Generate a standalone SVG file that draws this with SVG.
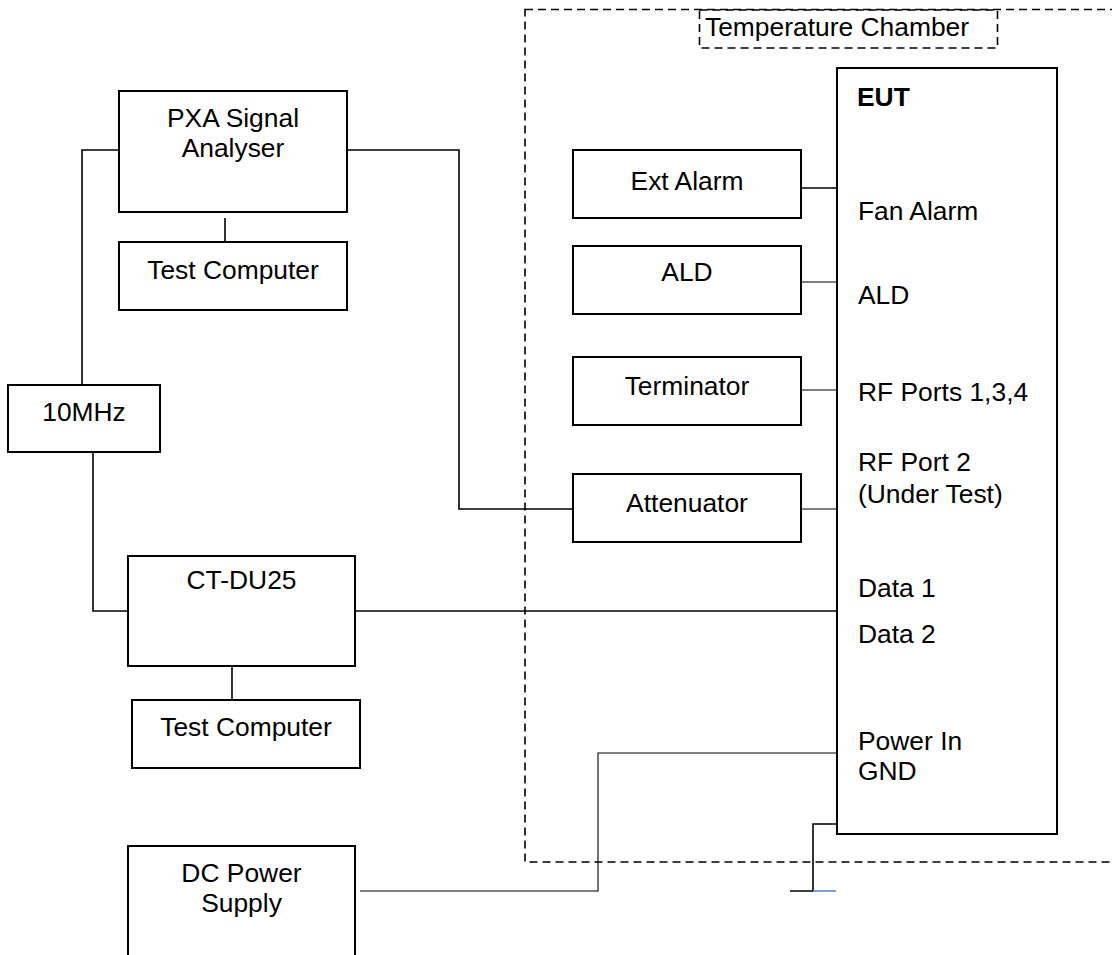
<svg xmlns="http://www.w3.org/2000/svg" width="1112" height="955" viewBox="0 0 1112 955">
<style>
.box{fill:#fff;stroke:#000;stroke-width:2}
.t{font-family:"Liberation Sans",Arial,sans-serif;font-size:26.4px;fill:#000}
.c{text-anchor:middle}
.w{fill:none;stroke:#000;stroke-width:1.6}
.thin{fill:none;stroke:#000;stroke-width:1.1}
.dash{fill:none;stroke:#000;stroke-width:1.6;stroke-dasharray:8 5}
</style>
<rect width="1112" height="955" fill="#fff"/>
<g id="chamber">
<rect class="dash" x="525" y="9.5" width="620" height="852.5"/>
<rect class="dash" x="699.5" y="10" width="298" height="38"/>
<text class="t" x="705" y="36">Temperature Chamber</text>
</g>
<g id="connectors">
<path class="w" d="M119,150 H82 V385"/>
<path class="w" d="M93,452 V611 H128"/>
<path class="w" d="M347,150 H459 V509 H573"/>
<path class="w" d="M225,218 V242"/>
<path class="w" d="M232,666 V700"/>
<path class="w" d="M355,611 H837"/>
<path class="w" d="M801,188 H837"/>
<path class="thin" d="M801,282 H837"/>
<path class="thin" d="M801,390 H837"/>
<path class="thin" d="M801,509 H837"/>
<path class="thin" d="M360,891 H598 V753 H837"/>
<path class="w" d="M837,824 H813 V891 H790"/>
<path d="M813,891 H836" stroke="#5b8bd0" stroke-width="1.6" fill="none"/>
</g>
<g id="pxa">
<rect class="box" x="119" y="91" width="228" height="121"/>
<text class="t c" x="233" y="127">PXA Signal</text>
<text class="t c" x="233" y="157">Analyser</text>
</g>
<g id="testcomputer1">
<rect class="box" x="119" y="242" width="228" height="68"/>
<text class="t c" x="233" y="279">Test Computer</text>
</g>
<g id="mhz10">
<rect class="box" x="8" y="385" width="152" height="67"/>
<text class="t c" x="84" y="421">10MHz</text>
</g>
<g id="ctdu25">
<rect class="box" x="128" y="556" width="227" height="110"/>
<text class="t c" x="241.5" y="589">CT-DU25</text>
</g>
<g id="testcomputer2">
<rect class="box" x="132" y="700" width="228" height="68"/>
<text class="t c" x="246" y="736">Test Computer</text>
</g>
<g id="dcpower">
<rect class="box" x="128" y="846" width="227" height="130"/>
<text class="t c" x="241.5" y="882">DC Power</text>
<text class="t c" x="241.5" y="912">Supply</text>
</g>
<g id="extalarm">
<rect class="box" x="573" y="150" width="228" height="68"/>
<text class="t c" x="687" y="190">Ext Alarm</text>
</g>
<g id="ald">
<rect class="box" x="573" y="246" width="228" height="68"/>
<text class="t c" x="687" y="281">ALD</text>
</g>
<g id="terminator">
<rect class="box" x="573" y="357" width="228" height="68"/>
<text class="t c" x="687" y="395">Terminator</text>
</g>
<g id="attenuator">
<rect class="box" x="573" y="474" width="228" height="68"/>
<text class="t c" x="687" y="512">Attenuator</text>
</g>
<g id="eut">
<rect class="box" x="837" y="68" width="220" height="766"/>
<text class="t" x="857" y="106" font-weight="bold">EUT</text>
<text class="t" x="858" y="220">Fan Alarm</text>
<text class="t" x="858" y="304">ALD</text>
<text class="t" x="858" y="401">RF Ports 1,3,4</text>
<text class="t" x="858" y="471">RF Port 2</text>
<text class="t" x="858" y="503">(Under Test)</text>
<text class="t" x="858" y="597">Data 1</text>
<text class="t" x="858" y="643">Data 2</text>
<text class="t" x="858" y="750">Power In</text>
<text class="t" x="858" y="780">GND</text>
</g>
</svg>
